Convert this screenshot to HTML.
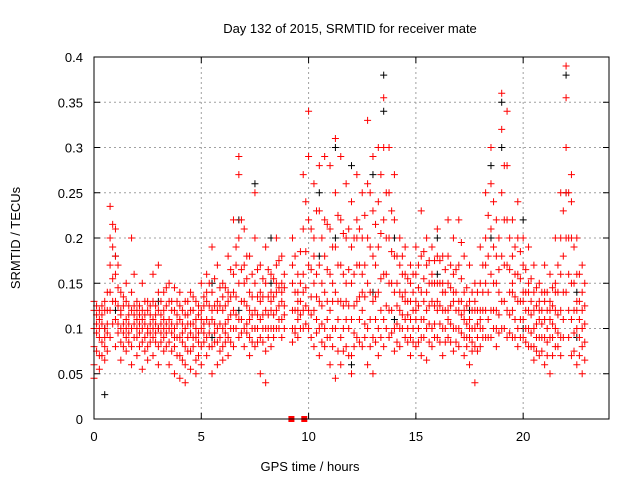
<!DOCTYPE html>
<html><head><meta charset="utf-8"><style>
body{margin:0;background:#fff}
svg{display:block;font-family:"Liberation Sans",sans-serif;font-size:13px}
</style></head><body>
<svg id="chart" width="640" height="480">
<text x="350" y="33" text-anchor="middle" fill="#000">Day 132 of 2015, SRMTID for receiver mate</text>
<text x="310" y="471" text-anchor="middle">GPS time / hours</text>
<text transform="translate(20,238) rotate(-90)" text-anchor="middle">SRMTID / TECUs</text>
<g id="grid"></g><g id="axes"></g><g id="black"></g><g id="red"></g>
<rect x="94" y="57" width="515" height="362" fill="none" stroke="#000" stroke-width="1"/>
</svg>
<script>
const xTicks=[0,5,10,15,20];
const yTicks=[0,0.05,0.1,0.15,0.2,0.25,0.3,0.35,0.4];
const yLabels=["0","0.05","0.1","0.15","0.2","0.25","0.3","0.35","0.4"];
// red series: [hour, values...]
const redBins=[
[0.0,0.06,0.1,0.12,0.045,0.08,0.13],[0.25,0.07,0.11,0.09,0.12,0.055,0.1],[0.5,0.08,0.13,0.1,0.065,0.12,0.09],
[0.75,0.235,0.2,0.17,0.12,0.09,0.14],[1.0,0.21,0.16,0.13,0.11,0.08,0.18],[1.25,0.14,0.12,0.1,0.085,0.065,0.115],
[1.5,0.13,0.11,0.09,0.1,0.075,0.15],[1.75,0.2,0.12,0.1,0.08,0.06,0.14],[2.0,0.13,0.1,0.09,0.11,0.07,0.12],
[2.25,0.15,0.12,0.1,0.085,0.055,0.11],[2.5,0.12,0.1,0.08,0.095,0.065,0.13],[2.75,0.16,0.13,0.11,0.09,0.07,0.1],
[3.0,0.17,0.12,0.1,0.08,0.06,0.14],[3.25,0.14,0.11,0.09,0.12,0.075,0.1],[3.5,0.15,0.13,0.1,0.085,0.06,0.11],
[3.75,0.145,0.12,0.1,0.08,0.05,0.09],[4.0,0.14,0.11,0.09,0.07,0.045,0.125],[4.25,0.13,0.1,0.08,0.06,0.04,0.115],
[4.5,0.14,0.12,0.095,0.075,0.055,0.105],[4.75,0.13,0.11,0.09,0.065,0.05,0.1],[5.0,0.15,0.12,0.1,0.08,0.06,0.11],
[5.25,0.16,0.13,0.11,0.09,0.07,0.14],[5.5,0.19,0.14,0.11,0.08,0.05,0.12],[5.75,0.17,0.13,0.1,0.085,0.06,0.12],
[6.0,0.15,0.12,0.1,0.08,0.065,0.135],[6.25,0.18,0.14,0.11,0.09,0.07,0.13],[6.5,0.22,0.16,0.12,0.1,0.08,0.14],
[6.75,0.29,0.27,0.2,0.15,0.11,0.09],[7.0,0.21,0.17,0.13,0.1,0.08,0.15],[7.25,0.18,0.14,0.11,0.09,0.07,0.12],
[7.5,0.25,0.2,0.15,0.12,0.1,0.08],[7.75,0.17,0.13,0.11,0.09,0.05,0.14],[8.0,0.19,0.15,0.12,0.1,0.04,0.075],
[8.25,0.16,0.14,0.12,0.1,0.08,0.13],[8.5,0.2,0.17,0.14,0.12,0.1,0.15],[8.75,0.18,0.15,0.13,0.11,0.09,0.14],
[9.25,0.2,0.15,0.12,0.1,0.085,0.17],[9.5,0.16,0.13,0.11,0.09,0.14,0.12],[9.75,0.27,0.21,0.16,0.12,0.1,0.14],
[10.0,0.34,0.29,0.22,0.17,0.12,0.1],[10.25,0.26,0.2,0.15,0.12,0.08,0.18],[10.5,0.28,0.23,0.17,0.13,0.1,0.07],
[10.75,0.29,0.22,0.18,0.14,0.1,0.08],[11.0,0.28,0.21,0.16,0.12,0.09,0.06],[11.25,0.31,0.25,0.19,0.14,0.1,0.045],
[11.5,0.29,0.22,0.17,0.13,0.09,0.06],[11.75,0.26,0.2,0.15,0.11,0.08,0.13],[12.0,0.24,0.19,0.15,0.11,0.07,0.05],
[12.25,0.27,0.22,0.17,0.13,0.09,0.2],[12.5,0.25,0.2,0.16,0.12,0.08,0.14],[12.75,0.33,0.26,0.2,0.15,0.1,0.06],
[13.0,0.29,0.23,0.18,0.13,0.09,0.05],[13.25,0.3,0.24,0.19,0.14,0.1,0.07],[13.5,0.355,0.3,0.22,0.16,0.11,0.08],
[13.75,0.3,0.25,0.2,0.15,0.12,0.09],[14.0,0.27,0.22,0.18,0.14,0.1,0.075],[14.25,0.2,0.17,0.14,0.12,0.1,0.08],
[14.5,0.19,0.16,0.13,0.11,0.09,0.14],[14.75,0.17,0.15,0.13,0.11,0.09,0.07],[15.0,0.19,0.16,0.13,0.11,0.08,0.12],
[15.25,0.23,0.18,0.14,0.11,0.09,0.07],[15.5,0.2,0.17,0.14,0.12,0.1,0.065],[15.75,0.19,0.16,0.13,0.1,0.08,0.15],
[16.0,0.21,0.18,0.15,0.12,0.09,0.13],[16.25,0.18,0.15,0.12,0.1,0.07,0.14],[16.5,0.22,0.18,0.15,0.12,0.09,0.11],
[16.75,0.2,0.16,0.13,0.1,0.075,0.14],[17.0,0.22,0.17,0.13,0.1,0.08,0.12],[17.25,0.18,0.14,0.11,0.09,0.07,0.12],
[17.5,0.17,0.13,0.11,0.09,0.06,0.1],[17.75,0.15,0.12,0.1,0.08,0.04,0.13],[18.0,0.19,0.15,0.12,0.1,0.08,0.11],
[18.25,0.25,0.2,0.15,0.12,0.09,0.17],[18.5,0.3,0.26,0.21,0.16,0.12,0.09],[18.75,0.22,0.18,0.15,0.12,0.1,0.08],
[19.0,0.36,0.32,0.25,0.18,0.13,0.1],[19.25,0.34,0.28,0.22,0.17,0.12,0.09],[19.5,0.22,0.18,0.15,0.12,0.09,0.14],
[19.75,0.24,0.2,0.16,0.13,0.1,0.08],[20.0,0.2,0.17,0.14,0.11,0.09,0.13],[20.25,0.19,0.15,0.12,0.1,0.08,0.14],
[20.5,0.17,0.14,0.12,0.1,0.08,0.065],[20.75,0.15,0.13,0.11,0.09,0.07,0.12],[21.0,0.17,0.14,0.11,0.09,0.06,0.13],
[21.25,0.16,0.13,0.11,0.09,0.05,0.12],[21.5,0.2,0.15,0.12,0.1,0.08,0.14],[21.75,0.25,0.2,0.16,0.12,0.09,0.07],
[22.0,0.39,0.355,0.3,0.25,0.2,0.14],[22.25,0.27,0.24,0.2,0.15,0.11,0.07],[22.5,0.2,0.16,0.13,0.1,0.06,0.12],
[22.75,0.17,0.14,0.12,0.1,0.08,0.05]
];
// red series, intermediate samples
const redBins2=[
[0.12,0.095,0.115,0.075,0.125,0.105],[0.37,0.085,0.105,0.125,0.07,0.115],[0.62,0.12,0.095,0.14,0.075,0.105],
[0.87,0.215,0.19,0.155,0.13,0.105],[1.12,0.17,0.145,0.125,0.105,0.095],[1.37,0.125,0.105,0.095,0.135,0.08],
[1.62,0.115,0.105,0.125,0.085,0.095],[1.87,0.125,0.105,0.115,0.09,0.16],[2.12,0.115,0.105,0.095,0.125,0.08],
[2.37,0.105,0.13,0.09,0.115,0.075],[2.62,0.115,0.105,0.125,0.085,0.095],[2.87,0.125,0.105,0.095,0.115,0.085],
[3.12,0.115,0.13,0.095,0.105,0.085],[3.37,0.125,0.105,0.095,0.145,0.08],[3.62,0.12,0.105,0.095,0.13,0.075],
[3.87,0.115,0.105,0.09,0.13,0.07],[4.12,0.105,0.095,0.12,0.085,0.065],[4.37,0.105,0.09,0.115,0.075,0.13],
[4.62,0.105,0.09,0.12,0.08,0.135],[4.87,0.115,0.095,0.085,0.125,0.07],[5.12,0.125,0.105,0.095,0.135,0.085],
[5.37,0.125,0.105,0.15,0.095,0.08],[5.62,0.125,0.105,0.095,0.155,0.085],[5.87,0.125,0.105,0.145,0.09,0.075],
[6.12,0.125,0.105,0.095,0.145,0.085],[6.37,0.135,0.115,0.165,0.1,0.085],[6.62,0.17,0.135,0.115,0.19,0.1],
[6.87,0.22,0.165,0.13,0.11,0.095],[7.12,0.155,0.125,0.105,0.18,0.095],[7.37,0.135,0.115,0.16,0.1,0.085],
[7.62,0.165,0.135,0.115,0.1,0.085],[7.87,0.135,0.115,0.1,0.155,0.085],[8.12,0.135,0.115,0.1,0.165,0.09],
[8.37,0.135,0.115,0.155,0.1,0.09],[8.62,0.145,0.125,0.11,0.175,0.1],[8.87,0.145,0.125,0.115,0.1,0.16],
[9.37,0.14,0.12,0.18,0.1,0.095],[9.62,0.15,0.13,0.115,0.185,0.1],[9.87,0.24,0.185,0.145,0.125,0.105],
[10.12,0.21,0.165,0.135,0.115,0.09],[10.37,0.23,0.16,0.135,0.11,0.095],[10.62,0.2,0.15,0.125,0.105,0.085],
[10.87,0.215,0.165,0.13,0.11,0.09],[11.12,0.19,0.15,0.13,0.1,0.08],[11.37,0.225,0.17,0.13,0.11,0.075],
[11.62,0.205,0.16,0.125,0.1,0.075],[11.87,0.21,0.165,0.125,0.1,0.07],[12.12,0.2,0.16,0.125,0.095,0.08],
[12.37,0.21,0.17,0.135,0.11,0.085],[12.62,0.225,0.17,0.135,0.105,0.09],[12.87,0.25,0.19,0.14,0.11,0.08],
[13.12,0.215,0.17,0.135,0.11,0.085],[13.37,0.27,0.205,0.155,0.12,0.09],[13.62,0.25,0.2,0.16,0.125,0.1],
[13.87,0.23,0.185,0.15,0.12,0.095],[14.12,0.18,0.15,0.125,0.105,0.085],[14.37,0.16,0.135,0.115,0.1,0.18],
[14.62,0.155,0.13,0.115,0.1,0.085],[14.87,0.16,0.14,0.12,0.1,0.085],[15.12,0.17,0.145,0.125,0.1,0.085],
[15.37,0.185,0.155,0.13,0.11,0.09],[15.62,0.175,0.15,0.125,0.105,0.085],[15.87,0.175,0.15,0.125,0.105,0.09],
[16.12,0.175,0.15,0.125,0.105,0.085],[16.37,0.165,0.14,0.12,0.1,0.085],[16.62,0.17,0.145,0.125,0.105,0.085],
[16.87,0.165,0.14,0.12,0.1,0.085],[17.12,0.155,0.13,0.115,0.095,0.195],[17.37,0.145,0.125,0.105,0.09,0.08],
[17.62,0.14,0.12,0.1,0.085,0.075],[17.87,0.14,0.12,0.105,0.09,0.075],[18.12,0.17,0.14,0.12,0.1,0.09],
[18.37,0.225,0.18,0.14,0.11,0.09],[18.62,0.24,0.19,0.15,0.12,0.1],[18.87,0.2,0.165,0.14,0.115,0.095],
[19.12,0.28,0.22,0.17,0.13,0.1],[19.37,0.2,0.165,0.14,0.115,0.095],[19.62,0.19,0.16,0.135,0.11,0.09],
[19.87,0.185,0.155,0.13,0.11,0.09],[20.12,0.165,0.14,0.12,0.1,0.085],[20.37,0.155,0.13,0.115,0.095,0.08],
[20.62,0.145,0.125,0.105,0.09,0.075],[20.87,0.14,0.12,0.105,0.09,0.075],[21.12,0.14,0.12,0.1,0.085,0.07],
[21.37,0.145,0.125,0.105,0.09,0.07],[21.62,0.17,0.14,0.115,0.095,0.08],[21.87,0.23,0.18,0.14,0.11,0.09],
[22.12,0.25,0.2,0.16,0.12,0.09],[22.37,0.19,0.15,0.12,0.095,0.075],[22.62,0.16,0.13,0.11,0.09,0.07],
[22.87,0.15,0.125,0.105,0.085,0.065]
];
const blackBins=[
[0.5,0.027,0.1],[1.0,0.18,0.12],[3.0,0.1,0.13],[5.5,0.15,0.09],[6.75,0.22,0.12],[7.5,0.26,0.1],[8.25,0.2,0.15],
[10.5,0.25,0.18],[11.25,0.3,0.2],[12.0,0.28,0.06],[13.0,0.27,0.14],[13.5,0.38,0.34],[14.0,0.2,0.11],
[16.0,0.16,0.2],[17.5,0.12,0.09],[18.5,0.28,0.2],[19.0,0.35,0.3],[20.0,0.22,0.1],[22.0,0.38,0.25],[22.5,0.14,0.09]
];
const redZeros=[9.2,9.8];

const X0=94,X1=609,Y0=419,Y1=57,XMAX=24,YMAX=0.4;
const xs=v=>X0+v/XMAX*(X1-X0);
const ys=v=>Y0-v/YMAX*(Y0-Y1);
const NS="http://www.w3.org/2000/svg";
function mk(tag,attrs,parent){const e=document.createElementNS(NS,tag);for(const k in attrs)e.setAttribute(k,attrs[k]);parent.appendChild(e);return e;}
const grid=document.getElementById('grid'),axes=document.getElementById('axes');
xTicks.forEach((t,i)=>{
  const x=xs(t);
  if(t>0){const l=mk('line',{x1:x,x2:x,y1:Y0,y2:Y1,stroke:'#a0a0a0','stroke-dasharray':'2,3'},grid);
  
  }
  mk('line',{x1:x,x2:x,y1:Y0,y2:Y0-6,stroke:'#000'},axes);
  mk('line',{x1:x,x2:x,y1:Y1,y2:Y1+6,stroke:'#000'},axes);
  const tx=mk('text',{x:x,y:Y0+22,'text-anchor':'middle'},axes);tx.textContent=String(t);
  
  
});
yTicks.forEach((t,i)=>{
  const y=ys(t);
  if(t>0&&t<YMAX){const l=mk('line',{x1:X0,x2:X1,y1:y,y2:y,stroke:'#a0a0a0','stroke-dasharray':'2,3'},grid);
  
  }
  mk('line',{x1:X0,x2:X0+6,y1:y,y2:y,stroke:'#000'},axes);
  mk('line',{x1:X1,x2:X1-6,y1:y,y2:y,stroke:'#000'},axes);
  const tx=mk('text',{x:X0-11,y:y+5,'text-anchor':'end'},axes);tx.textContent=yLabels[i];
  
  
});
function cross(g,t,v,col){
  const x=xs(t),y=ys(v);
  return mk('path',{d:`M${x-3.5},${y}h7M${x},${y-3.5}v7`,stroke:col,'stroke-width':1,fill:'none'},g);
}
const bg=document.getElementById('black');
blackBins.forEach(b=>{for(let i=1;i<b.length;i++){
  const p=cross(bg,b[0],b[i],'#000');
  
  
}});
const rg=document.getElementById('red');
redBins.concat(redBins2).forEach(b=>{for(let i=1;i<b.length;i++){
  const p=cross(rg,b[0],b[i],'#ff0000');
  
  
}});
redZeros.forEach(t=>{
  const r=mk('rect',{x:xs(t)-3,y:ys(0)-3,width:6,height:6,fill:'#ff0000'},rg);
  
  
});
</script>
</body></html>
